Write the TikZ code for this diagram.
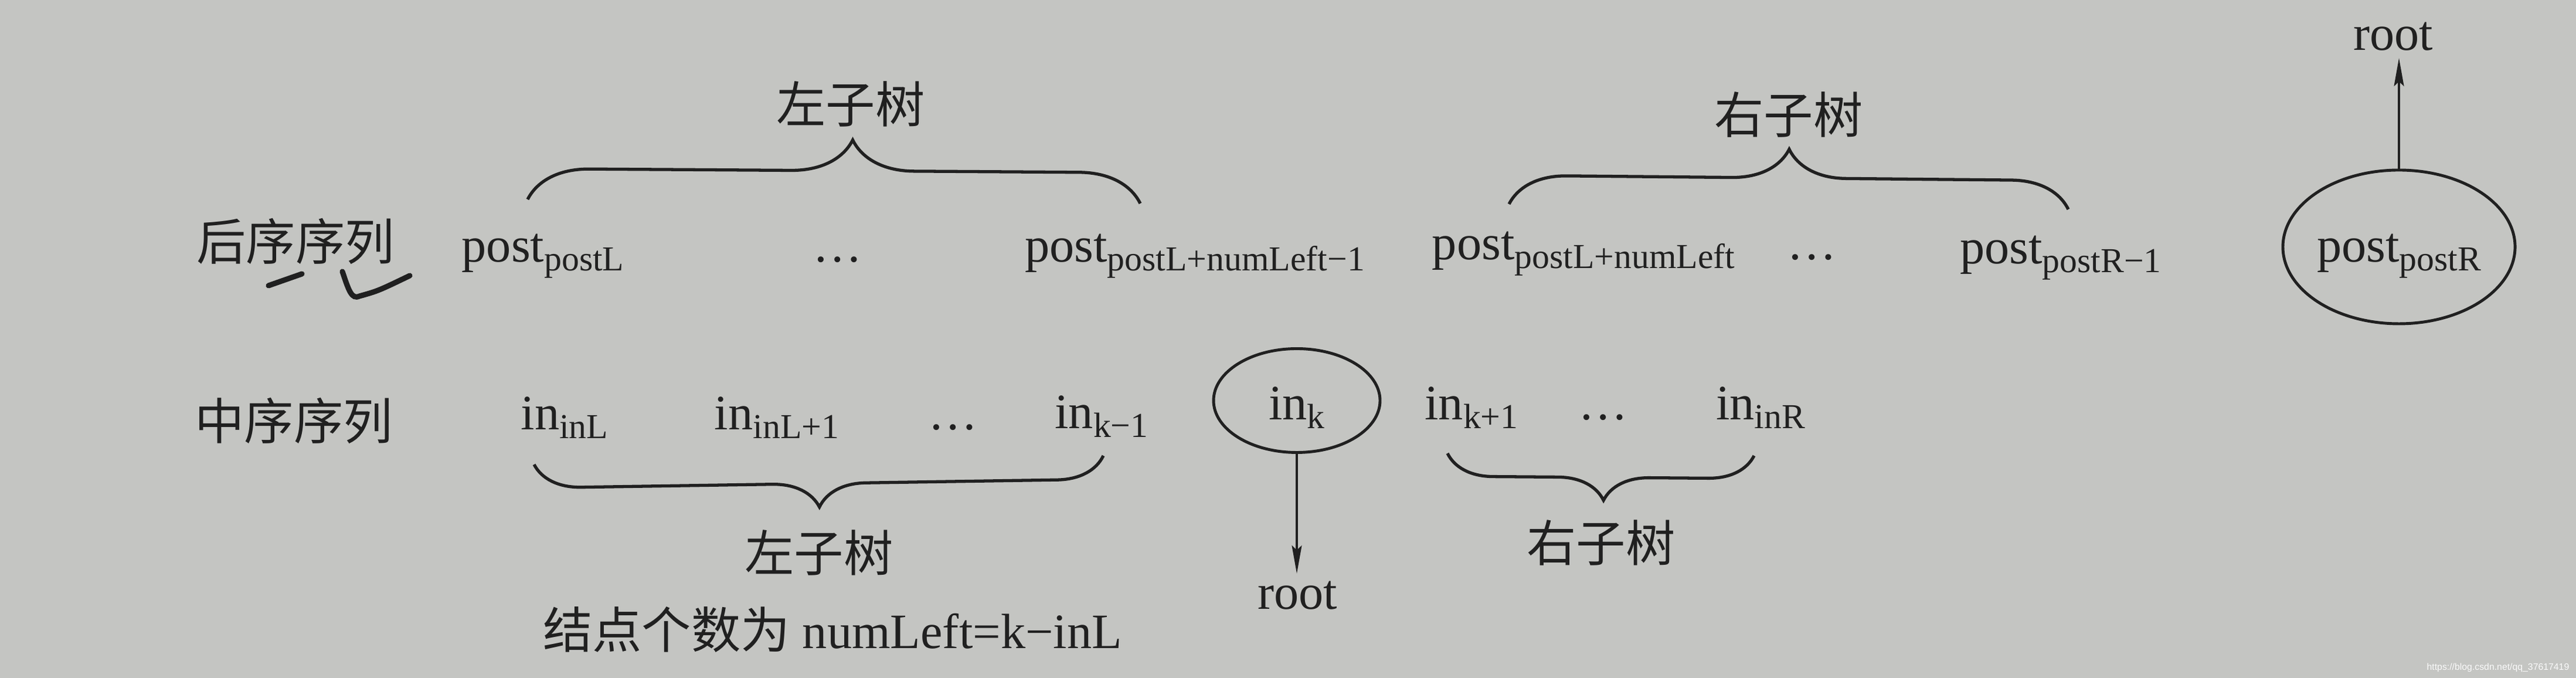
\documentclass[tikz,border=0pt]{standalone}
\usepackage{fontspec}
\setmainfont{Liberation Serif}
\newfontfamily\cjk{Noto Sans CJK SC}
\newfontfamily\wmfont{Liberation Sans}
\usetikzlibrary{arrows.meta,decorations.pathreplacing,shapes.geometric}
\definecolor{paper}{RGB}{196,197,194}
\definecolor{ink}{RGB}{32,32,32}
\newcommand\sbs[1]{\raisebox{-0.17em}{\fontsize{17}{20}\selectfont #1}}
\tikzset{
  txt/.style={font=\fontsize{24}{29}\selectfont,text=ink,inner sep=0pt},
  elem/.style={txt,anchor=base},
  rootnode/.style={txt,inner sep=0.12cm},
  oval/.style={ellipse,draw=ink,line width=1.4pt,txt},
  brc/.style={draw=ink,line width=1.5pt,decorate,decoration={brace,amplitude=#1}},
  arr/.style={draw=ink,line width=0.9pt,-{Stealth[length=4.8mm,width=1.7mm,inset=0.8mm]}},
}
\begin{document}
\begin{tikzpicture}
\path[fill=paper](0,0)rectangle(43.94,11.56);
\useasboundingbox(0,0)rectangle(43.94,11.56);
% postorder row
\node[txt](lblPost)at(5.04,7.45){\cjk 后序序列};
\node[elem](p1)at(9.26,7.09){post\sbs{postL}};
\node[elem](d1)at(14.29,7.09){\ldots};
\node[elem](p2)at(20.38,7.09){post\sbs{postL+numLeft−1}};
\node[elem](p3)at(27.01,7.13){post\sbs{postL+numLeft}};
\node[elem](d2)at(30.91,7.13){\ldots};
\node[elem](p4)at(35.15,7.06){post\sbs{postR−1}};
\node[oval,minimum width=3.73cm,minimum height=2.62cm,
  text height=0.85cm,text depth=0.33cm](pR)at(40.92,7.35){post\sbs{postR}};
\node[rootnode,anchor=south](rT)at(40.82,10.57){root};
\path[arr](pR.north)--(pR.north|-rT.south);
% braces above
\path[brc=1.05cm,decoration={aspect=0.53}](9.00,8.16)--(19.45,8.09);
\node[txt](lsT)at(14.51,9.79){\cjk 左子树};
\path[brc=0.98cm](25.74,8.08)--(35.28,7.99);
\node[txt](rsT)at(30.51,9.60){\cjk 右子树};
% pen marks
\path[draw=ink,line width=2.6pt,line cap=round](4.58,6.69)--(5.15,6.89);
\path[draw=ink,line width=2.6pt,line cap=round]%
(5.84,6.93)..controls(5.95,6.60)and(6.00,6.45)..(6.13,6.51)%
..controls(6.45,6.60)..(6.99,6.86);
% inorder row
\node[txt](lblIn)at(5.01,4.39){\cjk 中序序列};
\node[elem](i1)at(9.63,4.23){in\sbs{inL}};
\node[elem](i2)at(13.25,4.23){in\sbs{inL+1}};
\node[elem](d3)at(16.26,4.23){\ldots};
\node[elem](i3)at(18.79,4.25){in\sbs{k−1}};
\node[oval,minimum width=2.84cm,minimum height=1.77cm,
  text height=0.86cm,text depth=0.2cm](ik)at(22.12,4.73){in\sbs{k}};
\node[rootnode,anchor=north](rB)at(22.13,1.78){root};
\path[arr](ik.south)--(ik.south|-rB.north);
\node[elem](i4)at(25.10,4.40){in\sbs{k+1}};
\node[elem](d4)at(27.35,4.40){\ldots};
\node[elem](i5)at(30.03,4.40){in\sbs{inR}};
% braces below
\path[brc=0.8cm](18.82,3.79)--(9.11,3.64);
\node[txt](lsB)at(13.97,2.14){\cjk 左子树};
\node[elem](cnt)at(14.20,0.50){{\cjk 结点个数为} numLeft=k−inL};
\path[brc=0.78cm,decoration={aspect=0.49}](29.92,3.79)--(24.69,3.83);
\node[txt](rsB)at(27.31,2.30){\cjk 右子树};
\node[anchor=base east,inner sep=0pt,text=white!92!paper,
  font=\wmfont\fontsize{4.5}{5}\selectfont](wm)at(43.83,0.13)%
{https://blog.csdn.net/qq\_37617419};
\end{tikzpicture}
\end{document}
